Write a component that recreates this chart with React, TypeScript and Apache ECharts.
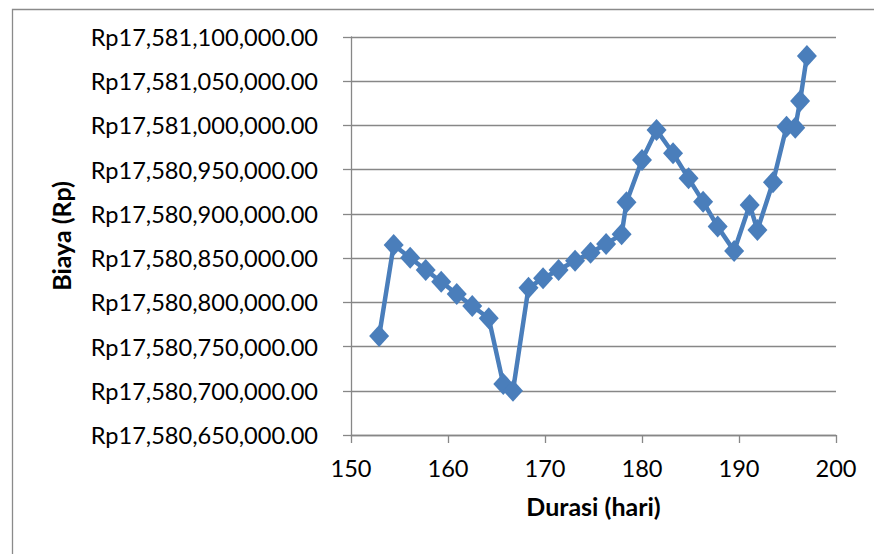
import React, { useEffect, useRef } from "react";
import * as echarts from "echarts";

const durasi: number[] = [
  152.9, 154.4, 156.1, 157.7, 159.3, 160.9, 162.5, 164.2, 165.7, 166.7,
  168.3, 169.8, 171.4, 173.1, 174.7, 176.3, 177.9, 178.4, 180.0, 181.5,
  183.2, 184.8, 186.3, 187.8, 189.5, 191.1, 191.9, 193.5, 194.9, 195.8,
  196.3, 197.0,
];

const biaya: number[] = [
  17580761900, 17580864800, 17580850500, 17580836600, 17580823300, 17580809400,
  17580795900, 17580782000, 17580707700, 17580700100, 17580816600, 17580827200,
  17580836600, 17580847100, 17580856000, 17580866000, 17580876900, 17580913100,
  17580960900, 17580994900, 17580968500, 17580940200, 17580913800, 17580885600,
  17580858100, 17580910100, 17580881800, 17580935700, 17580998600, 17580997500,
  17581027700, 17581078500,
];

const yMin = 17580650000;
const yMax = 17581100000;
const yStep = 50000;
const xMin = 150;
const xMax = 200;
const xStep = 10;

const xTitle = "Durasi (hari)";
const yTitle = "Biaya (Rp)";

const FONT = "Lato";

function formatRp(v: number): string {
  return (
    "Rp" +
    v.toLocaleString("en-US", {
      minimumFractionDigits: 2,
      maximumFractionDigits: 2,
    })
  );
}

export default function App() {
  const ref = useRef<HTMLDivElement>(null);

  useEffect(() => {
    document.body.style.margin = "0";
    if (!ref.current) return;
    const chart = echarts.init(ref.current, null, { renderer: "svg" });
    const axisColor = "#878787";
    chart.setOption({
      animation: false,
      backgroundColor: "#ffffff",
      textStyle: { fontFamily: FONT },
      graphic: [
        {
          type: "rect",
          left: 10,
          top: 7,
          shape: { x: 0, y: 0, width: 900, height: 600 },
          style: { fill: "none", stroke: "#8a8a8a", lineWidth: 1.3 },
          silent: true,
        },
      ],
      grid: {
        left: 351,
        right: 38,
        top: 37,
        bottom: 119,
        containLabel: false,
      },
      xAxis: {
        type: "value",
        min: xMin,
        max: xMax,
        interval: xStep,
        name: xTitle,
        nameLocation: "middle",
        nameGap: 58,
        nameTextStyle: {
          fontFamily: FONT,
          fontWeight: "bold",
          fontSize: 25,
          color: "#000",
        },
        axisLine: { show: true, lineStyle: { color: axisColor, width: 1.3 } },
        axisTick: {
          show: true,
          inside: false,
          length: 8,
          lineStyle: { color: axisColor, width: 1.3 },
        },
        axisLabel: {
          fontFamily: FONT,
          fontSize: 23.6,
          color: "#000",
          margin: 21,
        },
        splitLine: { show: false },
      },
      yAxis: {
        type: "value",
        min: yMin,
        max: yMax,
        interval: yStep,
        name: yTitle,
        nameLocation: "middle",
        nameGap: 278,
        nameRotate: 90,
        nameTextStyle: {
          fontFamily: FONT,
          fontWeight: "bold",
          fontSize: 25,
          color: "#000",
        },
        axisLine: { show: true, lineStyle: { color: axisColor, width: 1.3 } },
        axisTick: {
          show: true,
          inside: false,
          length: 8,
          lineStyle: { color: axisColor, width: 1.3 },
        },
        axisLabel: {
          fontFamily: FONT,
          fontSize: 23.6,
          color: "#000",
          margin: 33,
          formatter: (v: number) => formatRp(v),
        },
        splitLine: { show: true, lineStyle: { color: axisColor, width: 1.3 } },
      },
      series: [
        {
          type: "line",
          data: durasi.map((d, i) => [d, biaya[i]]),
          lineStyle: { color: "#4A7EBB", width: 4.5 },
          itemStyle: { color: "#4A7EBB" },
          symbol: "diamond",
          symbolSize: [20, 22],
          showSymbol: true,
        },
      ],
    });
    return () => chart.dispose();
  }, []);

  return (
    <div
      ref={ref}
      style={{ position: "absolute", left: 0, top: 0, width: 874, height: 554 }}
    />
  );
}
